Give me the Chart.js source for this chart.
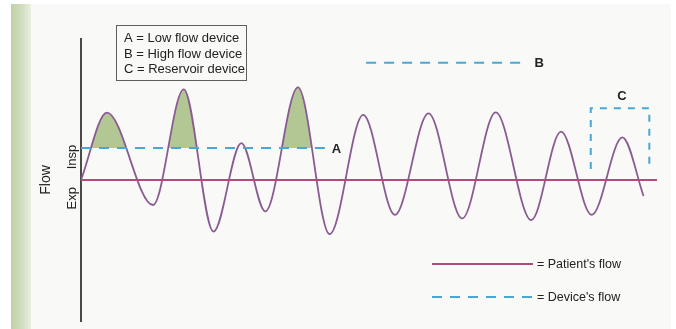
<!DOCTYPE html>
<html>
<head>
<meta charset="utf-8">
<script src="https://cdn.jsdelivr.net/npm/chart.js@4.4.1/dist/chart.umd.min.js"></script>
<style>
  html, body { margin: 0; padding: 0; background: #fff; }
  .wrap  { position: relative; width: 676px; height: 329px; overflow: hidden; }
  .panel { position: absolute; left: 11px; top: 4px; right: 5px; bottom: 0; background: #f9f9f8; }
  .strip { position: absolute; left: 11px; top: 4px; width: 20px; bottom: 0;
           background: linear-gradient(to right, #c0d1a5, #d3dfc2 60%, #eaefe2); }
  canvas { position: absolute; left: 0; top: 0; }
</style>
</head>
<body>
<div class="wrap">
  <div class="panel"></div>
  <div class="strip"></div>
  <canvas id="flow" width="676" height="329"></canvas>
</div>
<script>
const FONT = '"Liberation Sans", Arial, Helvetica, sans-serif'

// patient's breathing trace, turning points only (time, flow)
const breathTimes = [0, 2.7, 7.5, 10.7, 13.8, 16.7, 19.2, 22.6, 25.9, 29.4, 32.7, 36.2, 39.7, 43.2, 46.9, 50.0, 53.2, 56.4, 58.6]
const breathFlows = [0, 21.0, -7.8, 28.3, -16.1, 11.5, -9.8, 28.9, -16.9, 20.3, -10.9, 20.8, -12.0, 21.1, -12.5, 15.1, -10.9, 13.3, -5.0]

// zero-flow line
const zeroTimes = [0, 60]

// A: low flow device
const lowFlowTimes = [0, 25.4]
const lowFlowLevel = 10
// B: high flow device
const highFlowTimes = [29.7, 46.5]
const highFlowLevel = 36.6
// C: reservoir device
const reservoirTimes = [53.1, 53.1, 59.2, 59.2]
const reservoirFlows = [3.4, 22.4, 22.4, 3.4]

// breaths where the patient draws more than the low flow device gives
const shadedSpans = [[0, 13.8], [19.2, 25.9]]

const flowMin = -44
const flowMax = 44
const flowMarks = [11, -2.2]
const flowMarkLabels = ['Insp', 'Exp']
const deviceTags = ['A', 'B', 'C']
const deviceNotes = ['A = Low flow device', 'B = High flow device', 'C = Reservoir device']
const keyLabels = ["= Patient's flow", "= Device's flow"]

const pts = (xs, ys) => xs.map((x, i) => ({ x, y: Array.isArray(ys) ? ys[i] : ys }))

const DASH = '#4aa6d2'
const SHADE = '#b3c795'
const CLEAR = 'rgba(0,0,0,0)'

const labelsPlugin = {
  id: 'labels',
  afterDraw(chart) {
    const { ctx, chartArea: ca } = chart
    ctx.save()

    // device notes box
    const bx = Math.round(ca.left + 35) + 0.5, by = Math.round(ca.top - 14) + 0.5
    ctx.strokeStyle = '#5e5e5e'
    ctx.lineWidth = 1
    ctx.strokeRect(bx, by, 130, 55)
    ctx.fillStyle = '#222'
    ctx.font = `13px ${FONT}`
    ctx.textBaseline = 'middle'
    ctx.textAlign = 'left'
    deviceNotes.forEach((t, i) => ctx.fillText(t, bx + 7.5, by + 13 + i * 15.5))

    // A / B tags at the end of their lines, C over the reservoir
    ctx.font = `bold 13px ${FONT}`
    ;[1, 2].forEach((di, k) => {
      const els = chart.getDatasetMeta(di).data
      const end = els[els.length - 1]
      ctx.fillText(deviceTags[k], end.x + 7, end.y + 1)
    })
    const box = chart.getDatasetMeta(3).data
    ctx.textAlign = 'center'
    ctx.fillText(deviceTags[2], (box[1].x + box[2].x) / 2 + 2, box[1].y - 12)

    // key
    const ds = chart.data.datasets
    const kx0 = ca.right - 225, kx1 = ca.right - 124
    const rows = [ca.bottom - 57, ca.bottom - 24]
    ;[ds[0], ds[1]].forEach((d, i) => {
      ctx.strokeStyle = d.borderColor
      ctx.lineWidth = 2
      ctx.setLineDash(d.borderDash || [])
      ctx.beginPath()
      ctx.moveTo(kx0, rows[i])
      ctx.lineTo(kx1, rows[i])
      ctx.stroke()
    })
    ctx.setLineDash([])
    ctx.textAlign = 'left'
    ctx.font = `12.5px ${FONT}`
    keyLabels.forEach((t, i) => ctx.fillText(t, kx1 + 4, rows[i] + 1))

    ctx.restore()
  }
}

const datasets = [
  { label: "Patient's flow", data: pts(zeroTimes, 0), borderColor: '#b04b7c', borderWidth: 2 },
  { label: 'Low flow device', data: pts(lowFlowTimes, lowFlowLevel), borderColor: DASH, borderWidth: 2, borderDash: [10, 8] },
  { label: 'High flow device', data: pts(highFlowTimes, highFlowLevel), borderColor: DASH, borderWidth: 2, borderDash: [10, 8] },
  { label: 'Reservoir device', data: pts(reservoirTimes, reservoirFlows), borderColor: DASH, borderWidth: 2, borderDash: [7, 7] },
  {
    label: 'Breathing',
    data: pts(breathTimes, breathFlows),
    borderColor: '#8a5b92',
    borderWidth: 1.8,
    cubicInterpolationMode: 'monotone',
    fill: false,
  },
]

// each shaded breath: an unstroked copy of the trace filled down to the
// low flow level, with that level only spanning the breath
shadedSpans.forEach(span => {
  const capIndex = datasets.length + 1
  datasets.push({
    label: 'shade',
    data: pts(breathTimes, breathFlows),
    borderColor: CLEAR,
    cubicInterpolationMode: 'monotone',
    fill: { target: capIndex, above: SHADE, below: CLEAR },
  })
  datasets.push({ label: 'cap', data: pts(span, lowFlowLevel), borderColor: CLEAR, fill: false })
})

new Chart(document.getElementById('flow'), {
  type: 'line',
  data: { datasets },
  options: {
    responsive: false,
    animation: false,
    events: [],
    layout: { padding: { left: 0, right: 19, top: 39, bottom: 8 } },
    elements: { point: { radius: 0 }, line: { tension: 0, borderCapStyle: 'butt' } },
    plugins: { legend: { display: false }, tooltip: { enabled: false } },
    scales: {
      x: { type: 'linear', min: 0, max: 60, display: false },
      y: {
        min: flowMin,
        max: flowMax,
        afterFit: s => { s.width = 81; s.paddingTop = 0; s.paddingBottom = 0 },
        afterBuildTicks: s => { s.ticks = flowMarks.map(v => ({ value: v })) },
        grid: { display: false, drawTicks: false },
        border: { display: true, color: '#4a4a4a', width: 2 },
        ticks: {
          minRotation: 90, maxRotation: 90, padding: 9,
          color: '#222', font: { family: FONT, size: 13 },
          callback: (v, i) => flowMarkLabels[i],
        },
        title: {
          display: true, text: 'Flow', color: '#222',
          font: { family: FONT, size: 14 }, padding: { top: 38 },
        },
      },
    },
  },
  plugins: [labelsPlugin],
})
</script>
</body>
</html>
